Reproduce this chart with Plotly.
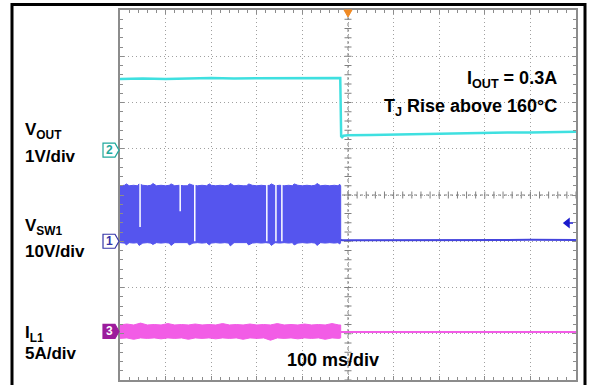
import numpy as np
import plotly.graph_objects as go

# ---------------- data (scope units) ----------------
# time axis in ms (100 ms/div, 10 div), vertical in divisions (8 div)
ch_offset_vout = 0.97   # div
ch_offset_vsw = -1.0    # div
ch_offset_il = -2.95    # div
scale_vout = 1.0        # V/div
scale_vsw = 10.0        # V/div
scale_il = 5.0          # A/div

vout_t = [-500, -450, -400, -350, -300, -250, -200, -150, -100, -50, -17, -15, -13, -10, 0,
          50, 100, 150, 200, 250, 300, 350, 400, 450, 500]
vout_v = [1.54, 1.55, 1.54, 1.55, 1.56, 1.55, 1.55, 1.56, 1.55, 1.56, 1.56, 0.30, 0.28, 0.31, 0.32,
          0.33, 0.34, 0.35, 0.36, 0.36, 0.37, 0.38, 0.38, 0.39, 0.40]

vsw_t = [-500, -490, -486, -480, -470, -462, -458, -450, -440, -432, -428, -420, -410, -400,
         -392, -388, -380, -370, -360, -352, -348, -340, -330, -320, -310, -304, -300, -290,
         -280, -270, -262, -258, -250, -240, -230, -222, -218, -210, -200, -190, -180, -172,
         -168, -160, -150, -140, -130, -122, -118, -110, -100, -90, -80, -72, -68, -60, -50,
         -40, -30, -22, -18, -16]
vsw_hi = [12.0, 12.1, 12.4, 12.0, 12.1, 12.0, 12.4, 12.1, 12.0, 12.1, 12.5, 12.0, 12.1, 12.0,
          12.1, 12.4, 12.0, 12.1, 12.0, 12.0, 12.4, 12.1, 12.0, 12.1, 12.0, 12.4, 12.1, 12.0,
          12.1, 12.0, 12.1, 12.5, 12.0, 12.1, 12.0, 12.0, 12.4, 12.1, 12.0, 12.1, 12.0, 12.1,
          12.4, 12.0, 12.1, 12.0, 12.1, 12.0, 12.4, 12.1, 12.0, 12.1, 12.0, 12.1, 12.5, 12.0,
          12.1, 12.0, 12.1, 12.0, 12.3, 12.0]
vsw_lo = [-0.3, -0.4, -0.8, -0.3, -0.4, -0.3, -0.9, -0.4, -0.3, -0.4, -0.7, -0.3, -0.4, -0.3,
          -0.4, -0.9, -0.3, -0.4, -0.3, -0.3, -0.8, -0.4, -0.3, -0.4, -0.3, -0.8, -0.4, -0.3,
          -0.4, -0.3, -0.4, -1.0, -0.3, -0.4, -0.3, -0.3, -0.8, -0.4, -0.3, -0.4, -0.3, -0.4,
          -0.9, -0.3, -0.4, -0.3, -0.4, -0.3, -0.8, -0.4, -0.3, -0.4, -0.3, -0.4, -0.9, -0.3,
          -0.4, -0.3, -0.4, -0.3, -0.6, -0.2]
vsw_off_t = [-16, -12, 0, 100, 200, 300, 400, 500]
vsw_off_v = [0.3, 0.2, 0.2, 0.25, 0.15, 0.2, 0.3, 0.25]

gap_t = [-456, -368, -336, -178, -158, -145]
gap_bottom_v = [3.1, 6.5, 0.0, 0.0, 0.0, 0.0]
gap_top_v = 12.6

il_t = [-500, -485, -470, -455, -440, -425, -410, -395, -380, -365, -350, -335, -320, -305,
        -290, -275, -260, -245, -230, -215, -200, -185, -170, -155, -140, -125, -110, -95,
        -80, -65, -50, -35, -20, -16]
il_hi = [0.7, 0.8, 0.7, 0.9, 0.7, 0.75, 0.7, 0.85, 0.7, 0.75, 0.7, 0.8, 0.7, 0.75,
         0.7, 0.85, 0.7, 0.75, 0.7, 0.8, 0.7, 0.75, 0.7, 0.85, 0.7, 0.75, 0.7, 0.8,
         0.7, 0.75, 0.7, 0.85, 0.7, 0.7]
il_lo = [-0.75, -0.7, -0.85, -0.7, -0.75, -0.7, -0.8, -0.7, -0.75, -0.7, -0.85, -0.7, -0.75, -0.7,
         -0.8, -0.7, -0.75, -0.7, -0.85, -0.7, -0.75, -0.7, -0.95, -0.7, -0.75, -0.7, -0.8, -0.7,
         -0.75, -0.7, -0.85, -0.7, -0.75, -0.7]
il_off_t = [-16, -10, 0, 100, 200, 300, 400, 500]
il_off_a = [-0.05, -0.05, -0.08, -0.05, -0.08, -0.05, -0.06, -0.05]

# ---------------- layout geometry ----------------
W, H = 589, 385
L, R, T, B = 120, 13, 10, 5
PW, PH = W - L - R, H - T - B


def pxx(x):
    return (x - L) / PW


def pxy(y):
    return (H - B - y) / PH


FONT = "Liberation Sans, Arial, sans-serif"
CYAN = "#3FE0E0"
BLUE = "#5555EE"
MAG = "#F25CE6"
GRID = "#808080"


def to_div(vals, scale, off):
    return [v / scale + off for v in vals]


fig = go.Figure()

# center cross lines (dotted) and minor ticks
fig.add_trace(go.Scatter(x=[0, 0], y=[-4, 4], mode="lines",
                         line=dict(color=GRID, width=1, dash="dot"), hoverinfo="skip"))
fig.add_trace(go.Scatter(x=[-500, 500], y=[0, 0], mode="lines",
                         line=dict(color=GRID, width=1, dash="dot"), hoverinfo="skip"))
xt = np.arange(-500, 501, 20)
fig.add_trace(go.Scatter(x=xt, y=np.zeros_like(xt, dtype=float), mode="markers",
                         marker=dict(symbol="line-ns-open", size=5, color=GRID,
                                     line=dict(color=GRID, width=1)),
                         hoverinfo="skip"))
yt = np.arange(-4, 4.001, 0.2)
fig.add_trace(go.Scatter(x=np.zeros_like(yt), y=yt, mode="markers",
                         marker=dict(symbol="line-ew-open", size=5, color=GRID,
                                     line=dict(color=GRID, width=1)),
                         hoverinfo="skip"))

# VSW1 switching band
band_x = vsw_t + vsw_t[::-1]
band_y = to_div(vsw_hi, scale_vsw, ch_offset_vsw) + to_div(vsw_lo[::-1], scale_vsw, ch_offset_vsw)
fig.add_trace(go.Scatter(x=band_x, y=band_y, mode="lines", fill="toself",
                         fillcolor=BLUE, line=dict(color=BLUE, width=1), hoverinfo="skip"))
gx, gy = [], []
for t, b in zip(gap_t, gap_bottom_v):
    gx += [t, t, None]
    gy += [gap_top_v / scale_vsw + ch_offset_vsw, b / scale_vsw + ch_offset_vsw, None]
fig.add_trace(go.Scatter(x=gx, y=gy, mode="lines", line=dict(color="white", width=1.5),
                         hoverinfo="skip"))
fig.add_trace(go.Scatter(x=vsw_off_t, y=to_div(vsw_off_v, scale_vsw, ch_offset_vsw), mode="lines",
                         line=dict(color="#4444DD", width=2), hoverinfo="skip"))

# IL1 band
il_x = il_t + il_t[::-1]
il_y = to_div(il_hi, scale_il, ch_offset_il) + to_div(il_lo[::-1], scale_il, ch_offset_il)
fig.add_trace(go.Scatter(x=il_x, y=il_y, mode="lines", fill="toself",
                         fillcolor=MAG, line=dict(color=MAG, width=1), hoverinfo="skip"))
fig.add_trace(go.Scatter(x=il_off_t, y=to_div(il_off_a, scale_il, ch_offset_il), mode="lines",
                         line=dict(color=MAG, width=2), hoverinfo="skip"))

# VOUT
fig.add_trace(go.Scatter(x=vout_t, y=to_div(vout_v, scale_vout, ch_offset_vout), mode="lines",
                         line=dict(color=CYAN, width=2.5), hoverinfo="skip"))

shapes = []
# outer black frame
shapes.append(dict(type="rect", xref="paper", yref="paper",
                   x0=pxx(12), x1=pxx(585), y0=pxy(4.5), y1=pxy(388),
                   line=dict(color="black", width=3), fillcolor="rgba(0,0,0,0)", layer="above"))
# channel markers
markers = [
    (ch_offset_vout, "white", "#1FA89C", "#1FA89C", "2"),
    (ch_offset_vsw, "white", "#3535A8", "#3535A8", "1"),
    (ch_offset_il, "#9C1C9C", "#9C1C9C", "white", "3"),
]
annotations = []
for off, fill, lc, tc, lab in markers:
    shapes.append(dict(type="path", xref="paper", yref="y", xsizemode="pixel", ysizemode="pixel",
                       xanchor=0, yanchor=off,
                       path="M -17,-7 L -5,-7 L -1,0 L -5,7 L -17,7 Z",
                       fillcolor=fill, line=dict(color=lc, width=1.2), layer="above"))
    annotations.append(dict(x=0, y=off, xref="paper", yref="y", text="<b>%s</b>" % lab,
                            showarrow=False, xanchor="center", yanchor="middle",
                            xshift=-10.5, yshift=0,
                            font=dict(family=FONT, size=12, color=tc)))
# trigger position (top) and trigger level (right)
shapes.append(dict(type="path", xref="x", yref="paper", xsizemode="pixel", ysizemode="pixel",
                   xanchor=0, yanchor=1, path="M -4,0 L 4,0 L 0,-7 Z",
                   fillcolor="#F08A24", line=dict(color="#F08A24", width=1), layer="above"))
shapes.append(dict(type="path", xref="paper", yref="y", xsizemode="pixel", ysizemode="pixel",
                   xanchor=1, yanchor=-0.605, path="M -12,0 L -7,4 L -7,-4 Z M -7,0 L -3,0",
                   fillcolor="#1A1ACC", line=dict(color="#1A1ACC", width=1.5), layer="above"))


# text labels
def lab(text, x, y, anchor="left", size=17):
    annotations.append(dict(x=pxx(x), y=pxy(y), xref="paper", yref="paper", text=text,
                            showarrow=False, xanchor=anchor, yanchor="middle",
                            font=dict(family=FONT, size=size, color="black")))


lab("<b>V<sub>OUT</sub></b>", 23, 131)
lab("<b>1V/div</b>", 23, 156)
lab("<b>V<sub>SW1</sub></b>", 23, 227)
lab("<b>10V/div</b>", 23, 251)
lab("<b>I<sub>L1</sub></b>", 23, 334)
lab("<b>5A/div</b>", 23, 353)
lab("<b>I<sub>OUT</sub> = 0.3A</b>", 559, 80, "right", 18)
lab("<b>T<sub>J</sub> Rise above 160°C</b>", 559, 108, "right", 18)
lab("<b>100 ms/div</b>", 285, 360, "left", 18)

axis_common = dict(showgrid=True, gridcolor="#A0A0A0", griddash="1px,3px", gridwidth=1,
                   zeroline=False, showline=True, linecolor="#8C8C8C", linewidth=2, mirror="ticks",
                   ticks="inside", ticklen=4, tickcolor="#8C8C8C", tickwidth=1,
                   showticklabels=False, fixedrange=True)
fig.update_layout(
    width=W, height=H, margin=dict(l=L, r=R, t=T, b=B),
    paper_bgcolor="white", plot_bgcolor="white", showlegend=False,
    xaxis=dict(range=[-500, 500], dtick=100, tick0=0,
               minor=dict(dtick=20, ticks="inside", ticklen=3, tickcolor="#8C8C8C", showgrid=False),
               **axis_common),
    yaxis=dict(range=[-4, 4], dtick=1, tick0=0,
               minor=dict(dtick=0.2, ticks="inside", ticklen=3, tickcolor="#8C8C8C", showgrid=False),
               **axis_common),
    shapes=shapes, annotations=annotations,
)

fig.write_html("out.html", config={"displayModeBar": False, "staticPlot": True},
               post_script="document.body.style.margin='0';document.body.style.overflow='hidden';")
